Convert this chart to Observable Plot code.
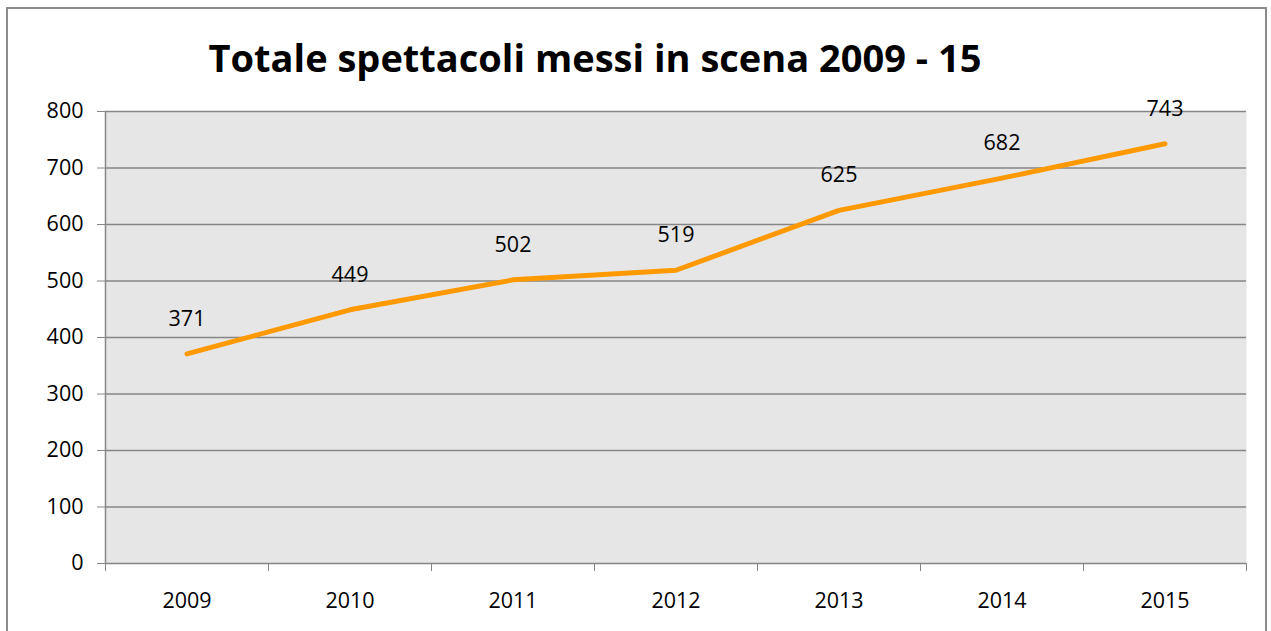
<!DOCTYPE html>
<html>
<head>
<meta charset="utf-8">
<script src="https://cdn.jsdelivr.net/npm/d3@7"></script>
<script src="https://cdn.jsdelivr.net/npm/@observablehq/plot@0.6"></script>
<style>
  html, body { margin: 0; padding: 0; background: #fff; }
  #wrap { position: relative; width: 1271px; height: 631px; overflow: hidden; font-family: "Open Sans", sans-serif; }
  #frame { position: absolute; left: 6px; top: 7px; width: 1261px; height: 660px; border: 2px solid #8c8c8c; box-sizing: border-box; }
  #title { position: absolute; left: 0; width: 1190px; top: 29px; text-align: center; font-weight: 700; font-size: 38px; color: #000; line-height: 56px; white-space: nowrap; }
  #chart { position: absolute; left: 0; top: 90px; }
</style>
</head>
<body>
<div id="wrap">
  <div id="frame"></div>
  <div id="title">Totale spettacoli messi in scena 2009 - 15</div>
  <div id="chart"></div>
</div>
<script>
const years = [2009, 2010, 2011, 2012, 2013, 2014, 2015];
const values = [371, 449, 502, 519, 625, 682, 743];
const yTicks = [0, 100, 200, 300, 400, 500, 600, 700, 800];

const data = years.map((year, i) => ({year, value: values[i]}));
const bounds = years.map(y => y - 0.5).concat([years[years.length - 1] + 0.5]);

const plot = Plot.plot({
  width: 1271,
  height: 541,
  marginLeft: 105,
  marginRight: 25,
  marginTop: 21,
  marginBottom: 68,
  style: { fontFamily: "Open Sans, sans-serif", fontSize: "21px", color: "#000", background: "transparent" },
  x: { type: "linear", domain: [bounds[0], bounds[bounds.length - 1]], label: null },
  y: { domain: [0, 800], label: null },
  marks: [
    Plot.frame({ fill: "#e6e6e6", stroke: null }),
    Plot.gridY(yTicks.filter(d => d > 0), { stroke: "#868686", strokeOpacity: 1, strokeWidth: 1.5 }),
    Plot.ruleX([bounds[0]], { stroke: "#868686", strokeWidth: 1.5 }),
    Plot.ruleY([0], { stroke: "#868686", strokeWidth: 1.5 }),
    Plot.axisY(yTicks, { tickSize: 8, tickPadding: 14, stroke: "#868686", fill: "#000", fontSize: 21.5, tickFormat: d3.format("d"), label: null }),
    Plot.axisX(bounds, { tickSize: 8, stroke: "#868686", text: null, label: null }),
    Plot.axisX(years, { tickSize: 0, tickPadding: 29, fontSize: 21.5, fill: "#000", tickFormat: d => String(d), label: null }),
    Plot.line(data, { x: "year", y: "value", stroke: "#ff9900", strokeWidth: 5, strokeLinejoin: "round" }),
    Plot.text(data, { x: "year", y: "value", text: d => String(d.value), dy: -35, fontSize: 21.5, fill: "#000" })
  ]
});
document.getElementById("chart").appendChild(plot);
</script>
</body>
</html>
